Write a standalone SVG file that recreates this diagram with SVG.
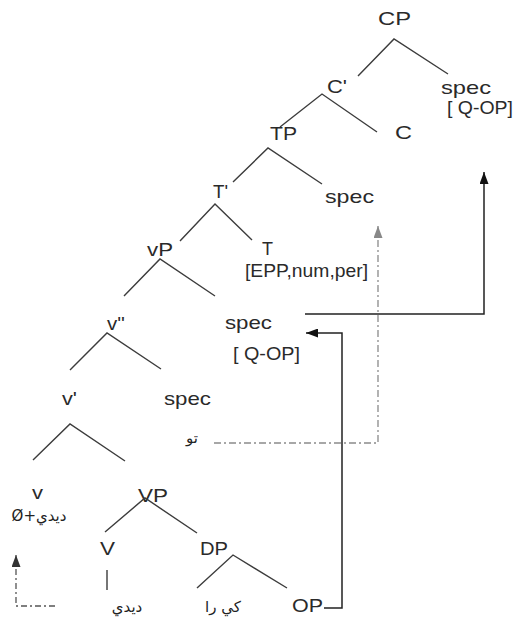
<svg xmlns="http://www.w3.org/2000/svg" width="515" height="620" viewBox="0 0 515 620">
<style>
  .t { font-family: "Liberation Sans", Arial, sans-serif; font-size: 19px; fill: #2a2a2a; }
  .ar { font-family: "DejaVu Sans", "Noto Sans", sans-serif; font-size: 15px; fill: #222; }
  .br { stroke: #3c3c3c; stroke-width: 1.4; fill: none; }
  .mv { stroke: #222; stroke-width: 1.5; fill: none; }
  .dd { stroke: #8a8a8a; stroke-width: 1.3; fill: none; stroke-dasharray: 7 3 2 3; }
  .dk { stroke: #555; stroke-width: 1.3; fill: none; stroke-dasharray: 6 3 2 3; }
</style>
<defs>
  <marker id="ab" markerUnits="userSpaceOnUse" markerWidth="13" markerHeight="9" refX="12" refY="4.5" orient="auto">
    <path d="M0,0 L12,4.5 L0,9 z" fill="#111"/>
  </marker>
  <marker id="ag" markerUnits="userSpaceOnUse" markerWidth="13" markerHeight="9" refX="12" refY="4.5" orient="auto">
    <path d="M0,0 L12,4.5 L0,9 z" fill="#888"/>
  </marker>
  <marker id="ad" markerUnits="userSpaceOnUse" markerWidth="13" markerHeight="9" refX="12" refY="4.5" orient="auto">
    <path d="M0,0 L12,4.5 L0,9 z" fill="#333"/>
  </marker>
</defs>
<rect width="515" height="620" fill="#fff"/>

<g id="CP">
  <text class="t" x="378" y="25" textLength="33" lengthAdjust="spacingAndGlyphs">CP</text>
  <path class="br" d="M358,76 L394,39 L448,74"/>
</g>
<g id="Cbar">
  <text class="t" x="327" y="93" textLength="20" lengthAdjust="spacingAndGlyphs">C'</text>
  <path class="br" d="M280,127 L322,94 L377,132"/>
</g>
<g id="specCP">
  <text class="t" x="441" y="94" textLength="50" lengthAdjust="spacingAndGlyphs">spec</text>
  <text class="t" x="447" y="114" textLength="66" lengthAdjust="spacingAndGlyphs">[ Q-OP]</text>
</g>
<g id="C">
  <text class="t" x="395" y="139" textLength="17" lengthAdjust="spacingAndGlyphs">C</text>
</g>
<g id="TP">
  <text class="t" x="270" y="140" textLength="27" lengthAdjust="spacingAndGlyphs">TP</text>
  <path class="br" d="M233,182 L268,148 L322,184"/>
</g>
<g id="specTP">
  <text class="t" x="325" y="203" textLength="49" lengthAdjust="spacingAndGlyphs">spec</text>
</g>
<g id="Tbar">
  <text class="t" x="213" y="198" textLength="15" lengthAdjust="spacingAndGlyphs">T'</text>
  <path class="br" d="M180,241 L215,204 L252,240"/>
</g>
<g id="T">
  <text class="t" x="262" y="255" textLength="11" lengthAdjust="spacingAndGlyphs">T</text>
  <text class="t" x="245" y="277" textLength="123" lengthAdjust="spacingAndGlyphs">[EPP,num,per]</text>
</g>
<g id="vP">
  <text class="t" x="147" y="256" textLength="26" lengthAdjust="spacingAndGlyphs">vP</text>
  <path class="br" d="M124,296 L160,259 L215,296"/>
</g>
<g id="v2bar">
  <text class="t" x="107" y="330" textLength="18" lengthAdjust="spacingAndGlyphs">v''</text>
  <path class="br" d="M70,370 L107,333 L161,369"/>
</g>
<g id="specvP">
  <text class="t" x="225" y="329" textLength="47" lengthAdjust="spacingAndGlyphs">spec</text>
  <text class="t" x="233" y="360" textLength="67" lengthAdjust="spacingAndGlyphs">[ Q-OP]</text>
</g>
<g id="vbar">
  <text class="t" x="62" y="405" textLength="15" lengthAdjust="spacingAndGlyphs">v'</text>
  <path class="br" d="M33,460 L70,424 L125,461"/>
</g>
<g id="specv">
  <text class="t" x="164" y="405" textLength="47" lengthAdjust="spacingAndGlyphs">spec</text>
  <text class="ar" x="192" y="443" text-anchor="middle">تو</text>
</g>
<g id="v">
  <text class="t" x="32" y="499" textLength="11" lengthAdjust="spacingAndGlyphs">v</text>
  <text class="ar" x="39" y="521" text-anchor="middle">Ø+ديدي</text>
</g>
<g id="VP">
  <text class="t" x="138" y="502" textLength="30" lengthAdjust="spacingAndGlyphs">VP</text>
  <path class="br" d="M105,532 L145,498 L197,533"/>
</g>
<g id="V">
  <text class="t" x="100" y="555" textLength="15" lengthAdjust="spacingAndGlyphs">V</text>
  <path class="br" d="M107,570 L107,590"/>
  <text class="ar" x="127" y="612" text-anchor="middle">ديدي</text>
</g>
<g id="DP">
  <text class="t" x="200" y="555" textLength="28" lengthAdjust="spacingAndGlyphs">DP</text>
  <path class="br" d="M197,588 L233,555 L287,588"/>
  <text class="ar" x="223" y="612" text-anchor="middle">كي را</text>
</g>
<g id="OP">
  <text class="t" x="292" y="612" textLength="31" lengthAdjust="spacingAndGlyphs">OP</text>
</g>

<g id="connectors">
  <polyline class="mv" points="324,608 342,608 342,333 306,333" marker-end="url(#ab)"/>
  <polyline class="mv" points="305,314 484,314 484,172" marker-end="url(#ab)"/>
  <polyline class="dd" points="214,443 378,443 378,226" marker-end="url(#ag)"/>
  <polyline class="dk" points="55,606 16,606 16,555" marker-end="url(#ad)"/>
</g>
</svg>
